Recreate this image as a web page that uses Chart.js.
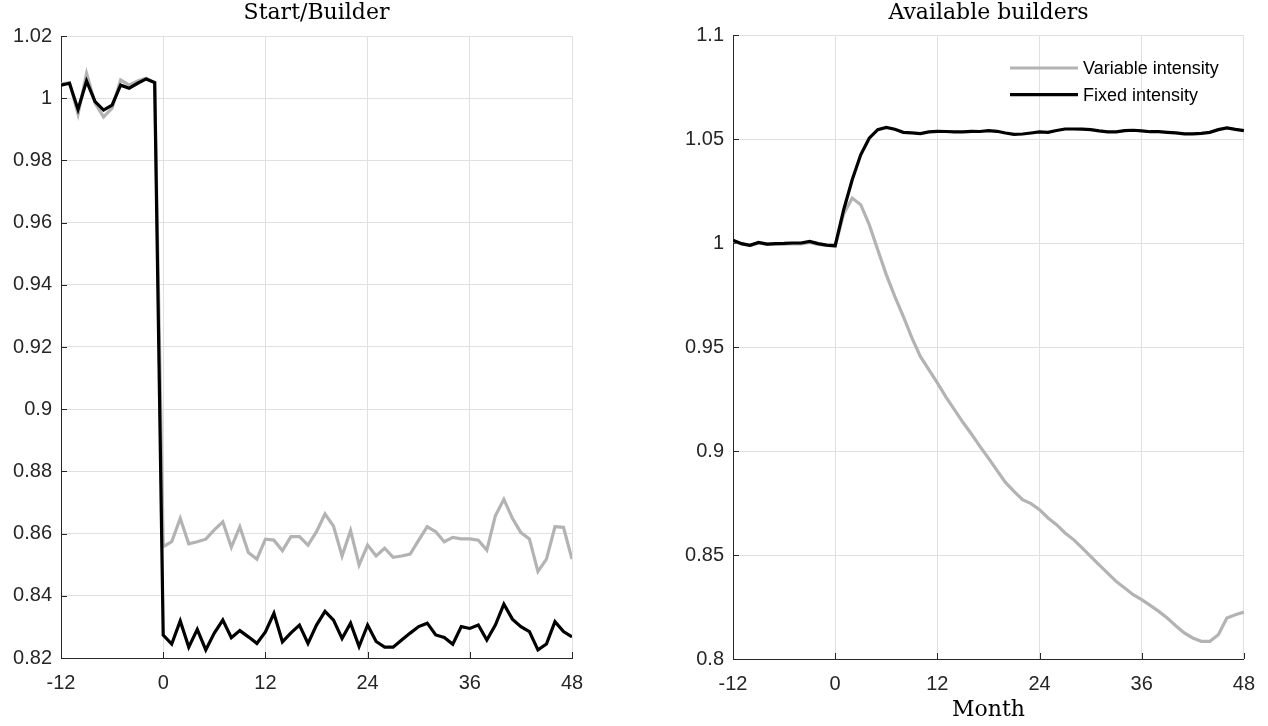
<!DOCTYPE html>
<html>
<head>
<meta charset="utf-8">
<title>Start/Builder and Available builders</title>
<script src="https://cdn.jsdelivr.net/npm/chart.js@4.4.0/dist/chart.umd.min.js"></script>
<style>
    html, body { margin: 0; padding: 0; background: #fff; }
    .panel { position: absolute; top: 0; width: 634px; height: 726px; }
    #leftPanel { left: 0; }
    #rightPanel { left: 634px; }
</style>
</head>
<body>
<div class="panel" id="leftPanel"><canvas id="startChart" width="634" height="726"></canvas></div>
<div class="panel" id="rightPanel"><canvas id="buildersChart" width="634" height="726"></canvas></div>

<script>
// Months relative to the policy change
const months = [
    -12, -11, -10, -9, -8, -7, -6, -5, -4, -3, -2, -1,
    0, 1, 2, 3, 4, 5, 6, 7, 8, 9, 10, 11,
    12, 13, 14, 15, 16, 17, 18, 19, 20, 21, 22, 23,
    24, 25, 26, 27, 28, 29, 30, 31, 32, 33, 34, 35,
    36, 37, 38, 39, 40, 41, 42, 43, 44, 45, 46, 47, 48
];

const seriesLabels = ['Variable intensity', 'Fixed intensity'];

// Start/Builder
const startVariable = [
    1.0045, 1.0050, 0.9949, 1.0080, 0.9984, 0.9940, 0.9968, 1.0059, 1.0042, 1.0055, 1.0064, 1.0050,
    0.8558, 0.8574, 0.8649, 0.8567, 0.8574, 0.8582, 0.8612, 0.8638, 0.8556, 0.8622, 0.8539, 0.8518,
    0.8582, 0.8579, 0.8545, 0.8590, 0.8590, 0.8563, 0.8606, 0.8663, 0.8624, 0.8528, 0.8610, 0.8499,
    0.8563, 0.8528, 0.8553, 0.8524, 0.8528, 0.8534, 0.8579, 0.8622, 0.8606, 0.8574, 0.8588, 0.8583,
    0.8583, 0.8579, 0.8547, 0.8657, 0.8710, 0.8649, 0.8603, 0.8583, 0.8478, 0.8518, 0.8622, 0.8620, 0.8518
];
const startFixed = [
    1.0042, 1.0048, 0.9964, 1.0055, 0.9989, 0.9962, 0.9978, 1.0042, 1.0032, 1.0048, 1.0062, 1.0050,
    0.8274, 0.8245, 0.8319, 0.8235, 0.8292, 0.8226, 0.8280, 0.8322, 0.8265, 0.8288, 0.8268, 0.8247,
    0.8284, 0.8344, 0.8252, 0.8281, 0.8306, 0.8247, 0.8306, 0.8350, 0.8322, 0.8263, 0.8312, 0.8237,
    0.8306, 0.8253, 0.8235, 0.8235, 0.8258, 0.8280, 0.8301, 0.8312, 0.8274, 0.8266, 0.8244, 0.8301,
    0.8295, 0.8306, 0.8258, 0.8306, 0.8373, 0.8325, 0.8301, 0.8285, 0.8226, 0.8245, 0.8317, 0.8285, 0.8268
];

// Available builders
const buildersVariable = [
    1.0010, 0.9995, 0.9988, 1.0000, 0.9993, 0.9994, 0.9994, 0.9997, 0.9996, 1.0003, 0.9993, 0.9988,
    0.9985, 1.0140, 1.0216, 1.0184, 1.0088, 0.9968, 0.9848, 0.9743, 0.9647, 0.9545, 0.9455, 0.9391,
    0.9327, 0.9260, 0.9199, 0.9138, 0.9082, 0.9022, 0.8966, 0.8907, 0.8849, 0.8806, 0.8766, 0.8747,
    0.8718, 0.8678, 0.8646, 0.8606, 0.8574, 0.8534, 0.8493, 0.8453, 0.8413, 0.8373, 0.8341, 0.8309,
    0.8285, 0.8258, 0.8229, 0.8197, 0.8160, 0.8125, 0.8101, 0.8085, 0.8085, 0.8117, 0.8197, 0.8213, 0.8226
];
const buildersFixed = [
    1.0013, 0.9997, 0.9989, 1.0003, 0.9995, 0.9997, 0.9998, 1.0000, 1.0000, 1.0008, 0.9997, 0.9990,
    0.9987, 1.0160, 1.0304, 1.0424, 1.0504, 1.0545, 1.0556, 1.0547, 1.0532, 1.0529, 1.0526, 1.0534,
    1.0537, 1.0536, 1.0534, 1.0534, 1.0537, 1.0536, 1.0540, 1.0537, 1.0529, 1.0522, 1.0524, 1.0529,
    1.0534, 1.0532, 1.0541, 1.0548, 1.0548, 1.0547, 1.0545, 1.0539, 1.0534, 1.0534, 1.0540, 1.0542,
    1.0539, 1.0535, 1.0535, 1.0532, 1.0529, 1.0525, 1.0525, 1.0527, 1.0532, 1.0545, 1.0553, 1.0546, 1.0540
];

const xTicks = [-12, 0, 12, 24, 36, 48];
const startYTicks = [0.82, 0.84, 0.86, 0.88, 0.9, 0.92, 0.94, 0.96, 0.98, 1, 1.02];
const buildersYTicks = [0.8, 0.85, 0.9, 0.95, 1, 1.05, 1.1];

const GRAY = '#b3b3b3';
const BLACK = '#000000';
const AXIS = '#262626';
const GRID = '#e0e0e0';
const SANS = '"Liberation Sans", Arial, sans-serif';
const SERIF = '"DejaVu Serif", serif';

/**
 * Draw short tick marks pointing into the plot area
 */
const inwardTicks = {
    id: 'inwardTicks',
    beforeDatasetsDraw(chart) {
        const { ctx, chartArea, scales } = chart;
        ctx.save();
        ctx.strokeStyle = AXIS;
        ctx.lineWidth = 1;
        ctx.beginPath();
        scales.x.ticks.forEach(t => {
            const px = Math.round(scales.x.getPixelForValue(t.value)) + 0.5;
            ctx.moveTo(px, chartArea.bottom);
            ctx.lineTo(px, chartArea.bottom - 6);
        });
        scales.y.ticks.forEach(t => {
            const py = Math.round(scales.y.getPixelForValue(t.value)) + 0.5;
            ctx.moveTo(chartArea.left, py);
            ctx.lineTo(chartArea.left + 6, py);
        });
        ctx.stroke();
        ctx.restore();
    }
};

/**
 * Legend inside the plot, no box
 */
const insideLegend = {
    id: 'insideLegend',
    afterDraw(chart, args, opts) {
        if (!opts.show) return;
        const { ctx } = chart;
        ctx.save();
        ctx.font = '18px ' + SANS;
        ctx.textBaseline = 'middle';
        ctx.textAlign = 'left';
        chart.data.datasets.forEach((ds, i) => {
            const y = opts.y + i * opts.rowHeight;
            ctx.strokeStyle = ds.borderColor;
            ctx.lineWidth = ds.borderWidth;
            ctx.beginPath();
            ctx.moveTo(opts.x, y);
            ctx.lineTo(opts.x + opts.lineLength, y);
            ctx.stroke();
            ctx.fillStyle = '#000';
            ctx.fillText(ds.label, opts.x + opts.lineLength + 5, y + 1);
        });
        ctx.restore();
    }
};

function toPoints(values) {
    return values.map((v, i) => ({ x: months[i], y: v }));
}

function tickLabel(value) {
    return String(parseFloat(Number(value).toFixed(3)));
}

function buildChart(canvasId, cfg) {
    const ctx = document.getElementById(canvasId);
    if (!ctx) return;

    new Chart(ctx.getContext('2d'), {
        type: 'line',
        data: {
            datasets: [
                {
                    label: seriesLabels[0],
                    data: toPoints(cfg.variable),
                    borderColor: GRAY,
                    borderWidth: 3.2,
                    pointRadius: 0,
                    tension: 0,
                    order: 1
                },
                {
                    label: seriesLabels[1],
                    data: toPoints(cfg.fixed),
                    borderColor: BLACK,
                    borderWidth: 3.2,
                    pointRadius: 0,
                    tension: 0,
                    order: 0
                }
            ]
        },
        plugins: [inwardTicks, insideLegend],
        options: {
            responsive: false,
            animation: false,
            events: [],
            layout: {
                padding: { left: 0, right: cfg.padRight, top: 0, bottom: 0 }
            },
            plugins: {
                legend: { display: false },
                tooltip: { enabled: false },
                title: {
                    display: true,
                    text: cfg.title,
                    fullSize: false,
                    color: '#000',
                    font: { family: SERIF, size: 22, weight: 'normal' },
                    padding: { top: 0, bottom: cfg.titleGap }
                },
                insideLegend: cfg.legend
            },
            scales: {
                x: {
                    type: 'linear',
                    min: -12,
                    max: 48,
                    afterBuildTicks: scale => {
                        scale.ticks = xTicks.map(v => ({ value: v }));
                    },
                    afterFit: scale => { scale.height = cfg.xHeight; },
                    grid: { color: GRID, lineWidth: 1, drawTicks: false },
                    border: { color: AXIS, width: 1 },
                    ticks: {
                        color: AXIS,
                        padding: 13,
                        maxRotation: 0,
                        font: { family: SANS, size: 20 }
                    },
                    title: cfg.xTitle
                },
                y: {
                    type: 'linear',
                    min: cfg.yTicks[0],
                    max: cfg.yTicks[cfg.yTicks.length - 1],
                    afterBuildTicks: scale => {
                        scale.ticks = cfg.yTicks.map(v => ({ value: v }));
                    },
                    afterFit: scale => { scale.width = cfg.yWidth; },
                    grid: { color: GRID, lineWidth: 1, drawTicks: false },
                    border: { color: AXIS, width: 1 },
                    ticks: {
                        color: AXIS,
                        padding: 9,
                        font: { family: SANS, size: 20 },
                        callback: tickLabel
                    }
                }
            }
        }
    });
}

document.addEventListener('DOMContentLoaded', function() {
    buildChart('startChart', {
        title: 'Start/Builder',
        variable: startVariable,
        fixed: startFixed,
        yTicks: startYTicks,
        yWidth: 61,
        xHeight: 68,
        padRight: 62,
        titleGap: 9.6,
        xTitle: { display: false },
        legend: { show: false }
    });

    buildChart('buildersChart', {
        title: 'Available builders',
        variable: buildersVariable,
        fixed: buildersFixed,
        yTicks: buildersYTicks,
        yWidth: 99,
        xHeight: 67,
        padRight: 23,
        titleGap: 8.6,
        xTitle: {
            display: true,
            text: 'Month',
            color: '#000',
            font: { family: SERIF, size: 22, weight: 'normal' },
            padding: { top: 0, bottom: 3 }
        },
        legend: { show: true, x: 376, y: 68, rowHeight: 26.6, lineLength: 68 }
    });
});
</script>
</body>
</html>
